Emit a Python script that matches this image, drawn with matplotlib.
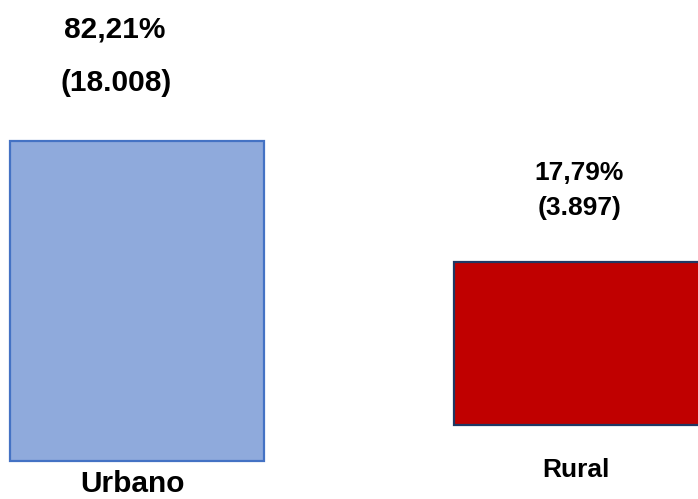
import matplotlib
matplotlib.use("Agg")
import matplotlib.pyplot as plt

# data
categorias = ["Urbano", "Rural"]
porcentajes = ["82,21%", "17,79%"]
cantidades = ["(18.008)", "(3.897)"]

# bar geometry (figure pixels, from bottom)
bar_left = [10, 454]
bar_width = [254, 250]
bar_base = [38, 74]
bar_height = [320, 163]

fill_colors = ["#8FAADC", "#C00000"]
edge_colors = ["#4472C4", "#203864"]
font_sizes = [21.5, 19]
label_dx = [-17, 3]
pct_dy = [104, 82]
cnt_dy = [50, 47]
cat_dy = [-31, -52]

fig = plt.figure(figsize=(6.98, 4.99), dpi=100)
ax = fig.add_axes([0, 0, 1, 1])
ax.set_xlim(0, 698)
ax.set_ylim(0, 499)
ax.axis("off")

for i in range(len(categorias)):
    ax.bar(bar_left[i], bar_height[i], width=bar_width[i], bottom=bar_base[i],
           align="edge", color=fill_colors[i], edgecolor=edge_colors[i],
           linewidth=1.6, clip_on=False)
    cx = bar_left[i] + min(bar_width[i], 244) / 2
    top = bar_base[i] + bar_height[i]
    fs = font_sizes[i]
    ax.text(cx + label_dx[i], top + pct_dy[i], porcentajes[i], ha="center",
            va="baseline", fontsize=fs, fontweight="bold", family="Liberation Sans")
    ax.text(cx + label_dx[i] + 1, top + cnt_dy[i], cantidades[i], ha="center",
            va="baseline", fontsize=fs, fontweight="bold", family="Liberation Sans")
    ax.text(cx, bar_base[i] + cat_dy[i], categorias[i], ha="center",
            va="baseline", fontsize=fs, fontweight="bold", family="Liberation Sans")

fig.savefig("out.png", dpi=100)
